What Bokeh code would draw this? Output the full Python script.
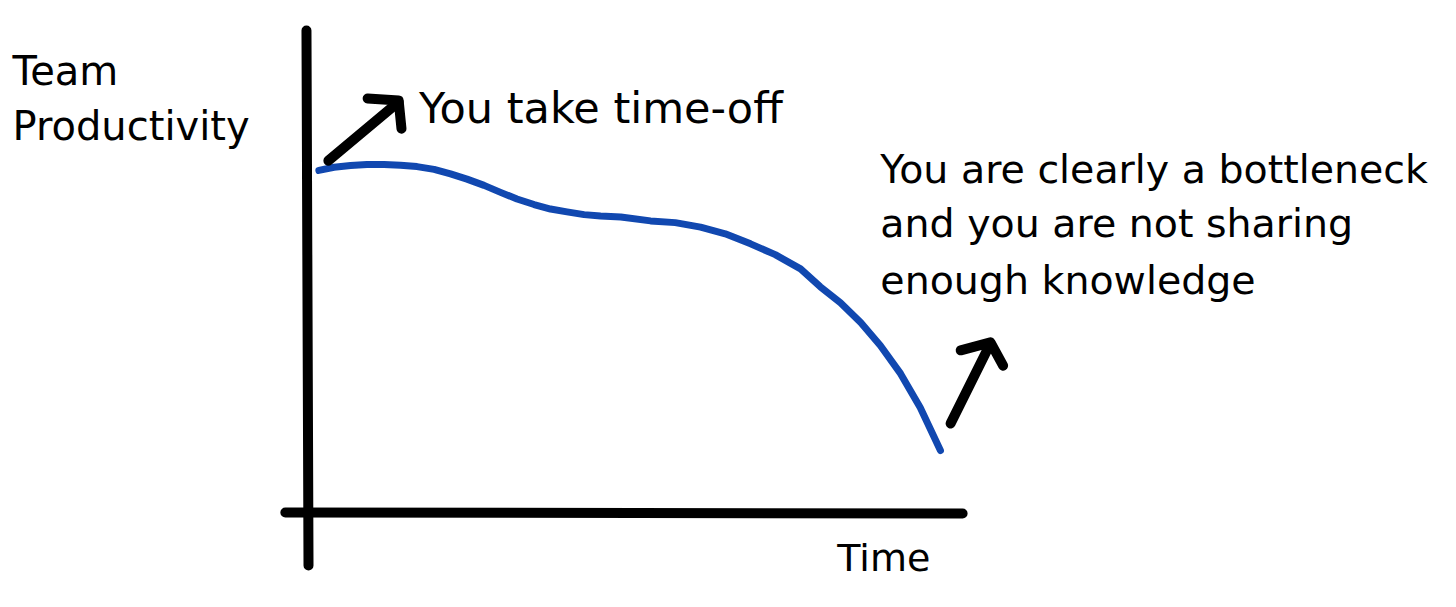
from bokeh.plotting import figure
from bokeh.models import Range1d, ColumnDataSource
from bokeh.core.properties import value
from bokeh.embed import file_html
from bokeh.resources import INLINE

# ---- data (time and productivity in arbitrary units) ----
time = [0.18, 0.42, 0.68, 0.94, 1.21, 1.47, 1.73, 2.00, 2.26, 2.52, 2.79, 3.05,
        3.31, 3.58, 3.84, 4.10, 4.37, 4.63, 4.95, 5.42, 5.81, 6.21, 6.60, 7.00,
        7.39, 7.79, 8.10, 8.42, 8.74, 9.05, 9.37, 9.68, 10.0]
productivity = [9.83, 9.92, 9.97, 10.0, 10.0, 9.98, 9.94, 9.86, 9.73, 9.58, 9.40, 9.20,
                9.01, 8.85, 8.72, 8.64, 8.56, 8.52, 8.49, 8.38, 8.33, 8.20, 8.01, 7.72,
                7.41, 7.00, 6.49, 6.03, 5.46, 4.80, 3.99, 3.02, 1.78]

y_label_lines = ["Team", "Productivity"]
x_label = "Time"
start_note = "You take time-off"
end_note_lines = ["You are clearly a bottleneck",
                  "and you are not sharing",
                  "enough knowledge"]

FONT = "DejaVu Sans"
BLUE = "#1148b0"

p = figure(width=1440, height=591, output_backend="svg", toolbar_location=None,
           x_range=Range1d(-4.85, 17.90), y_range=Range1d(-2.27, 14.713),
           x_axis_type=None, y_axis_type=None, min_border=0,
           background_fill_color="white", border_fill_color="white")
p.grid.visible = False
p.outline_line_color = None

# hand-drawn axes
p.line([-0.016, 0.016], [13.85, -1.52], line_color="black", line_width=10, line_cap="round")
p.line([-0.35, 10.35], [0.0, -0.03], line_color="black", line_width=10, line_cap="round")

# the productivity curve
src = ColumnDataSource(dict(t=time, p=productivity))
p.line("t", "p", source=src, line_color=BLUE, line_width=7, line_cap="round", line_join="round")

# arrows
p.multi_line(xs=[[0.33, 1.44], [0.95, 1.44, 1.485]],
             ys=[[10.11, 11.80], [11.90, 11.84, 11.03]],
             line_color="black", line_width=10, line_cap="round", line_join="round")
p.multi_line(xs=[[10.16, 10.79], [10.32, 10.79, 10.99]],
             ys=[[2.56, 4.86], [4.66, 4.89, 4.22]],
             line_color="black", line_width=10, line_cap="round", line_join="round")

# texts
p.text(x=[-4.66, -4.66], y=[12.70, 11.12], text=y_label_lines,
       text_font=value(FONT), text_font_size="40px", text_color="black",
       text_baseline="alphabetic", text_align="left")
p.text(x=[8.37], y=[-1.32], text=[x_label],
       text_font=value(FONT), text_font_size="38px", text_color="black",
       text_baseline="alphabetic", text_align="left")
p.text(x=[1.76], y=[11.61], text=[start_note],
       text_font=value(FONT), text_font_size="43px", text_color="black",
       text_baseline="alphabetic", text_align="left")
p.text(x=[9.05] * 3, y=[9.885, 8.305, 6.667], text=end_note_lines,
       text_font=value(FONT), text_font_size="39.5px", text_color="black",
       text_baseline="alphabetic", text_align="left")

open("out.html", "w").write(file_html(p, INLINE))
